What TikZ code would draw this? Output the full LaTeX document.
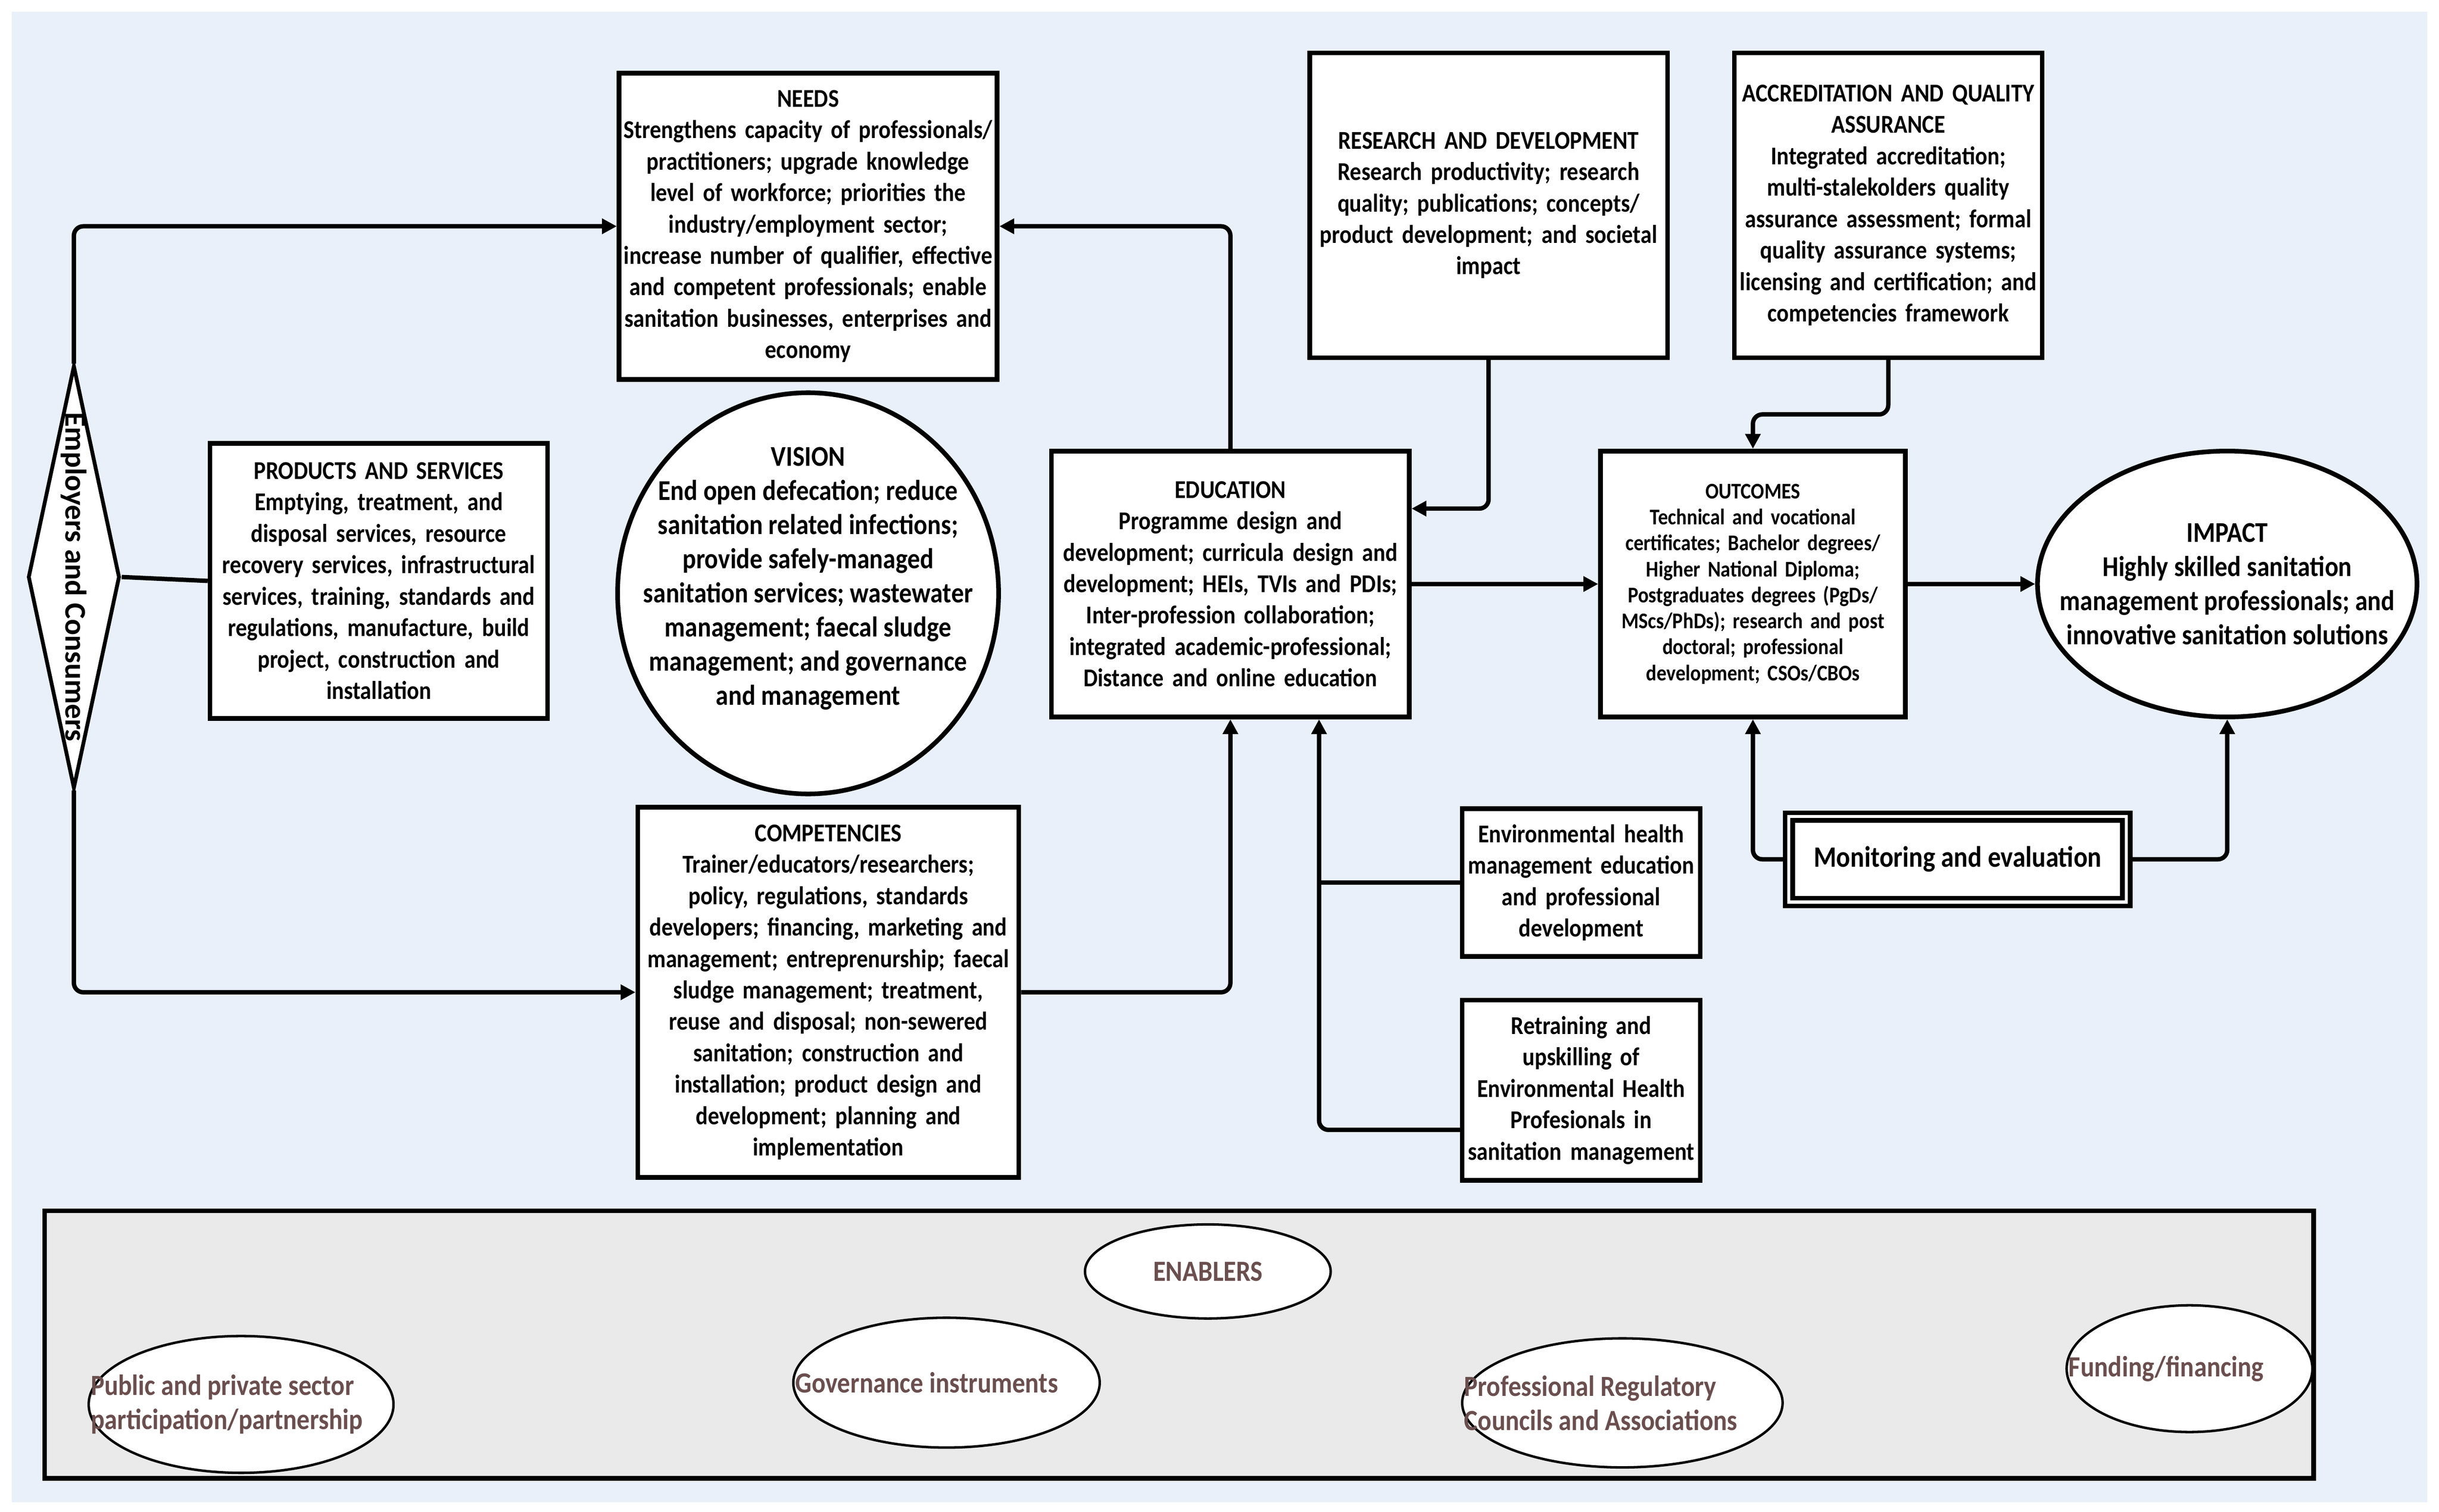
\documentclass[tikz,border=0pt]{standalone}
\usepackage{fontspec}
\setmainfont{Carlito}[FakeStretch=0.88]
\newfontfamily\empfont{Carlito}
\usetikzlibrary{arrows.meta,positioning,shapes.geometric}
\definecolor{bgblue}{RGB}{233,240,249}
\definecolor{engray}{RGB}{234,234,234}
\definecolor{enbrown}{RGB}{107,78,78}
\newcommand\txtbox{\fontsize{9.4}{11.5}\selectfont\bfseries}
\newcommand\txtbig{\fontsize{10.5}{12.5}\selectfont\bfseries}
\newcommand\txtsmall{\fontsize{8.2}{9.5}\selectfont\bfseries}
\newcommand\txtme{\fontsize{10.8}{12.5}\selectfont\bfseries}
\newcommand\txten{\fontsize{10.7}{12.5}\selectfont\bfseries}
\newcommand\txtemp{\empfont\fontsize{11}{13}\selectfont\bfseries}
\tikzset{box/.style={draw, fill=white, line width=1.7pt, inner sep=0pt, align=center, font=\txtbox},
  oval/.style={draw, ellipse, fill=white, line width=1.7pt, inner sep=0pt},
  bigtext/.style={font=\txtbig, align=center},
  arr/.style={line width=1.6pt, rounded corners=1.2mm, -{Triangle[length=1.9mm,width=1.9mm]}},
  ln/.style={line width=1.6pt, rounded corners=1.2mm},
  enoval/.style={draw, ellipse, fill=white, line width=0.9pt, inner sep=0pt},
  entext/.style={font=\txten, text=enbrown, align=left, inner sep=1pt}}

\begin{document}
\begin{tikzpicture}[x=0.02cm, y=-0.02cm]
    \useasboundingbox (0,0) rectangle (1568,972);
    \fill[bgblue] (7.5,7.5) rectangle (1560.5,966);

    \node[draw, diamond, fill=white, line width=1.4pt, inner sep=0pt, minimum width=1.18cm, minimum height=5.44cm,
      label={[rotate=-90, font=\txtemp]center:Employers and Consumers}] (emp) at (47.5,371) {};
    \node[box, text width=4.86cm, minimum height=3.94cm] (needs) at (519.5,145.5)
      {NEEDS\\ Strengthens capacity of professionals/\\ practitioners; upgrade knowledge\\ level of workforce; priorities the\\ industry/employment sector;\\ increase number of qualifier, effective\\ and competent professionals; enable\\ sanitation businesses, enterprises and\\ economy};
    \node[box, text width=4.34cm, minimum height=3.54cm] (prod) at (243.5,373.5)
      {PRODUCTS AND SERVICES\\ Emptying, treatment, and\\ disposal services, resource\\ recovery services, infrastructural\\ services, training, standards and\\ regulations, manufacture, build\\ project, construction and\\ installation};
    \node[oval, minimum width=4.9cm, minimum height=5.16cm,
      label={[bigtext, yshift=0.19cm]center:{VISION\\ End open defecation; reduce\\ sanitation related infections;\\ provide safely-managed\\ sanitation services; wastewater\\ management; faecal sludge\\ management; and governance\\ and management}}] (vis) at (519.5,381.5) {};
    \node[box, text width=4.9cm, minimum height=4.76cm] (comp) at (532.5,638)
      {COMPETENCIES\\ Trainer/educators/researchers;\\ policy, regulations, standards\\ developers; financing, marketing and\\ management; entreprenurship; faecal\\ sludge management; treatment,\\ reuse and disposal; non-sewered\\ sanitation; construction and\\ installation; product design and\\ development; planning and\\ implementation};
    \node[box, text width=4.6cm, minimum height=3.42cm] (edu) at (791,375.5)
      {EDUCATION\\ Programme design and\\ development; curricula design and\\ development; HEIs, TVIs and PDIs;\\ Inter-profession collaboration;\\ integrated academic-professional;\\ Distance and online education};
    \node[box, text width=4.6cm, minimum height=3.92cm] (rd) at (957,132)
      {RESEARCH AND DEVELOPMENT\\ Research productivity; research\\ quality; publications; concepts/\\ product development; and societal\\ impact};
    \node[box, text width=3.96cm, minimum height=3.92cm, right=0.8cm of rd] (acc)
      {ACCREDITATION AND QUALITY\\ ASSURANCE\\ Integrated accreditation;\\ multi-stalekolders quality\\ assurance assessment; formal\\ quality assurance systems;\\ licensing and certification; and\\ competencies framework};
    \node[box, font=\txtsmall, text width=3.92cm, minimum height=3.42cm, right=2.4cm of edu] (out)
      {OUTCOMES\\ Technical and vocational\\ certificates; Bachelor degrees/\\ Higher National Diploma;\\ Postgraduates degrees (PgDs/\\ MScs/PhDs); research and post\\ doctoral; professional\\ development; CSOs/CBOs};
    \node[oval, minimum width=4.88cm, minimum height=3.42cm, right=1.64cm of out,
      label={[bigtext]center:{IMPACT\\ Highly skilled sanitation\\ management professionals; and\\ innovative sanitation solutions}}] (imp) {};
    \node[box, font=\txtme, double=white, double distance=1.1pt, minimum width=4.34cm, minimum height=1.1cm] (me) at (1258.5,552.5)
      {Monitoring and evaluation};
    \node[box, text width=3.06cm, minimum height=1.9cm] (env) at (1016.5,567.5)
      {Environmental health\\ management education\\ and professional\\ development};
    \node[box, text width=3.06cm, minimum height=2.32cm, below=0.5cm of env] (retr)
      {Retraining and\\ upskilling of\\ Environmental Health\\ Profesionals in\\ sanitation management};

    \draw[arr] (emp.north) |- (needs.west);
    \draw[arr] (emp.south) |- (comp.west);
    \draw[ln] (emp.east) -- (prod.west);
    \draw[arr] (edu.north) |- (needs.east);
    \draw[arr] (comp.east) -| (edu.south);
    \draw[arr] (rd.south) |- ([yshift=0.97cm]edu.east);
    \draw[arr] (acc.south) -- ++(0,35) -| (out.north);
    \draw[arr] (edu.east) -- (out.west);
    \draw[arr] (out.east) -- (imp.west);
    \draw[arr] (me.west) -| (out.south);
    \draw[arr] (me.east) -| (imp.south);
    \coordinate (j) at ([xshift=1.14cm]edu.south);
    \draw[arr] ([yshift=-0.51cm]retr.west) -| (j);
    \draw[ln] (env.west) -- (env.west -| j);

    \node[draw, fill=engray, line width=1.7pt, minimum width=29.18cm, minimum height=3.44cm] (enab) at (758,864.5) {};
    \node[enoval, font=\txten, text=enbrown, minimum width=3.16cm, minimum height=1.21cm] (en) at (776.5,817.5) {ENABLERS};
    \node[enoval, minimum width=3.92cm, minimum height=1.76cm] (pub) at (155,903) {};
    \node[entext, anchor=west] (pubt) at (pub.west) {Public and private sector\\ participation/partnership};
    \node[enoval, minimum width=3.94cm, minimum height=1.67cm] (gov) at (608.5,889) {};
    \node[entext, anchor=west] (govt) at (gov.west) {Governance instruments};
    \node[enoval, minimum width=4.12cm, minimum height=1.66cm] (prof) at (1043,902) {};
    \node[entext, anchor=west] (proft) at (prof.west) {Professional Regulatory\\ Councils and Associations};
    \node[enoval, minimum width=3.16cm, minimum height=1.63cm] (fund) at (1407.6,880) {};
    \node[entext, anchor=west] (fundt) at (fund.west) {Funding/financing};
\end{tikzpicture}
\end{document}
